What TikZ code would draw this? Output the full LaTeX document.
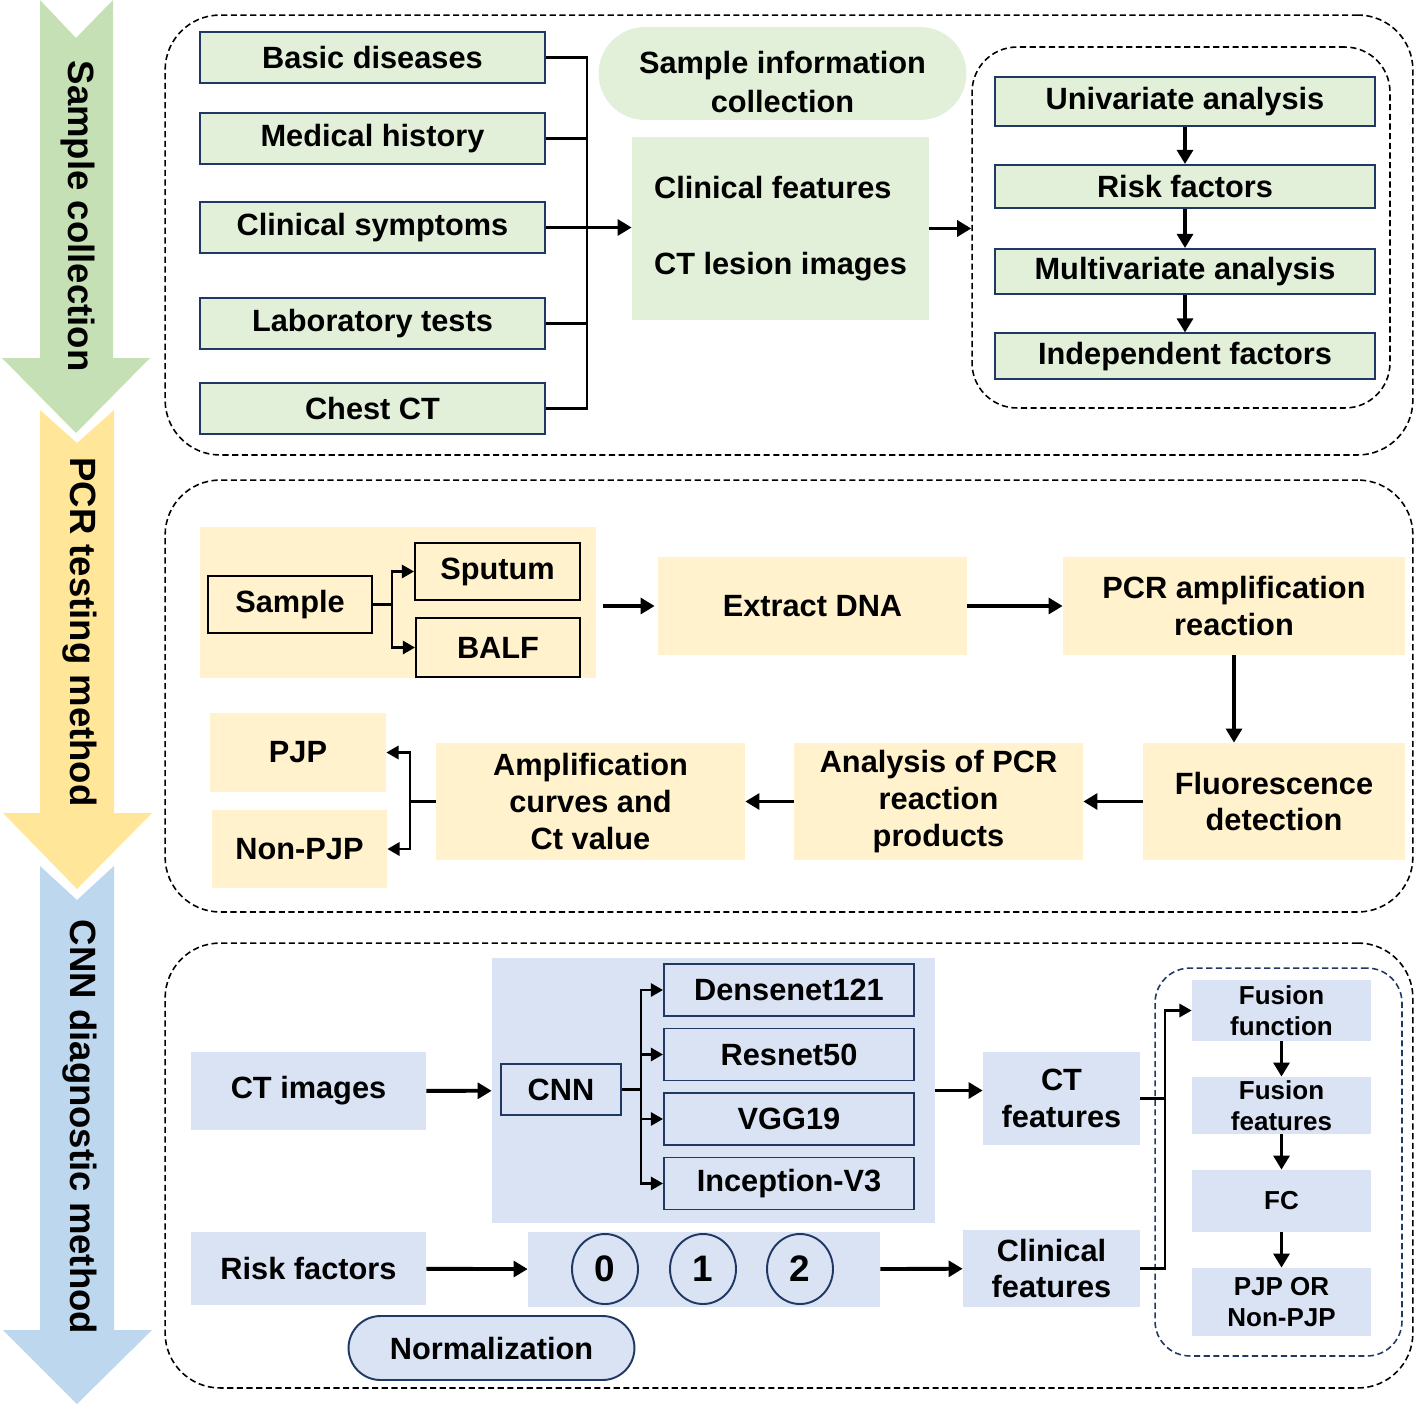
\documentclass[tikz,border=0pt]{standalone}
\usepackage{fontspec}
\setmainfont{Liberation Sans}
\usetikzlibrary{arrows.meta,shapes.misc,shapes.geometric,positioning}

\definecolor{greenarrow}{HTML}{C5E0B4}
\definecolor{greenbox}{HTML}{E2F0D9}
\definecolor{yellowarrow}{HTML}{FFE699}
\definecolor{yellowbox}{HTML}{FFF2CC}
\definecolor{bluearrow}{HTML}{BDD7EE}
\definecolor{bluebox}{HTML}{DAE3F3}
\definecolor{navy}{HTML}{1F3864}

\begin{document}
\begin{tikzpicture}[x=0.02cm, y=-0.02cm,
  every node/.style={font=\bfseries\fontsize{17.5}{21}\selectfont, align=center, inner sep=2pt},
  gbox/.style={rectangle, draw=navy, line width=1.1pt, fill=greenbox, minimum width=6.9cm, minimum height=1.02cm},
  gfill/.style={rectangle, fill=greenbox},
  yfill/.style={rectangle, fill=yellowbox},
  yline/.style={rectangle, draw=black, line width=1.1pt, fill=yellowbox},
  bfill/.style={rectangle, fill=bluebox},
  bline/.style={rectangle, draw=navy, line width=1.1pt, fill=bluebox, minimum width=5cm, minimum height=1.04cm},
  fusbox/.style={rectangle, fill=bluebox, minimum width=3.58cm, font=\bfseries\fontsize{14.8}{17.6}\selectfont},
  digit/.style={ellipse, draw=navy, line width=1.1pt, minimum width=1.32cm, minimum height=1.4cm, inner sep=0pt, font=\bfseries\fontsize{21}{24}\selectfont},
  grp/.style={rectangle, draw=black, line width=0.9pt, dash pattern=on 3.5pt off 2pt, rounded corners=1.1cm},
  sidetext/.style={rotate=-90, font=\bfseries\fontsize{20.8}{24}\selectfont},
  conn/.style={line width=1.6pt},
  tconn/.style={line width=1.6pt, -{Triangle[length=7pt,width=7.5pt]}},
  arr/.style={line width=2.2pt, -{Triangle[length=8pt,width=9pt]}}]
  \useasboundingbox (0,0) rectangle (1416,1406);

  % Side arrows
  \fill[greenarrow] (40,0) -- (76,38) -- (113,0) -- (113,358) -- (150,358) -- (76,433) -- (2,358) -- (40,358) -- cycle;
  \fill[yellowarrow] (40,410) -- (77,443) -- (114,410) -- (114,813) -- (152,813) -- (77,889) -- (3,813) -- (40,813) -- cycle;
  \fill[bluearrow] (40,866) -- (77,900) -- (114,866) -- (114,1330) -- (152,1330) -- (77,1404) -- (3,1330) -- (40,1330) -- cycle;
  \node (sideone) [sidetext] at (78,216) {Sample collection};
  \node (sidetwo) [sidetext] at (80,632) {PCR testing method};
  \node (sidethree) [sidetext] at (80,1127) {CNN diagnostic method};

  % Sample collection blocks
  \node (secone) [grp, minimum width=24.96cm, minimum height=8.8cm] at (789,235) {};
  \node (basic) [gbox] at (372.5,57.5) {Basic diseases};
  \node (medical) [gbox] at (372.5,138.5) {Medical history};
  \node (symptom) [gbox] at (372.5,227.5) {Clinical symptoms};
  \node (labtest) [gbox] at (372.5,323.5) {Laboratory tests};
  \node (chestct) [gbox] at (372.5,408.5) {Chest CT};
  \node (info) [rounded rectangle, fill=greenbox, minimum width=7.5cm, minimum height=1.86cm] at (782.5,73.5) {};
  \node (infotext) [font=\bfseries\fontsize{17.5}{22.5}\selectfont] at (782.5,82) {Sample information\\collection};
  \node (feature) [gfill, minimum width=5.94cm, minimum height=3.66cm, align=left] at (780.5,228.5) {Clinical features\\[22pt]CT lesion images};
  \node (anagrp) [grp, minimum width=8.36cm, minimum height=7.22cm, rounded corners=0.9cm] at (1181,227.5) {};
  \node (univar) [gbox, minimum width=7.6cm, minimum height=0.98cm] at (1185,101.5) {Univariate analysis};
  \node (riskfac) [gbox, minimum width=7.6cm, minimum height=0.86cm, node distance=1.7cm, below of=univar] {Risk factors};
  \node (multivar) [gbox, minimum width=7.6cm, minimum height=0.9cm, node distance=1.7cm, below of=riskfac] {Multivariate analysis};
  \node (indep) [gbox, minimum width=7.6cm, minimum height=0.92cm, node distance=1.7cm, below of=multivar] {Independent factors};

  % PCR testing blocks
  \node (sectwo) [grp, minimum width=24.96cm, minimum height=8.64cm] at (789,696) {};
  \node (samplebg) [yfill, minimum width=7.92cm, minimum height=3.02cm] at (398,602.5) {};
  \node (sample) [yline, minimum width=3.28cm, minimum height=1.14cm] at (290,604.5) {Sample};
  \node (sputum) [yline, minimum width=3.3cm, minimum height=1.14cm] at (497.5,571.5) {Sputum};
  \node (balf) [yline, minimum width=3.28cm, minimum height=1.18cm] at (498,647.5) {BALF};
  \node (extract) [yfill, minimum width=6.18cm, minimum height=1.96cm] at (812.5,606) {Extract DNA};
  \node (pcramp) [yfill, minimum width=6.84cm, minimum height=1.96cm] at (1234,606) {PCR amplification\\reaction};
  \node (fluor) [yfill, minimum width=5.24cm, minimum height=2.34cm] at (1274,801.5) {Fluorescence\\detection};
  \node (analyse) [yfill, minimum width=5.78cm, minimum height=2.34cm] at (938.5,801.5) {Analysis of PCR\\reaction\\products};
  \node (ampcurve) [yfill, minimum width=6.18cm, minimum height=2.34cm] at (590.5,801.5) {Amplification\\curves and\\Ct value};
  \node (pjp) [yfill, minimum width=3.52cm, minimum height=1.58cm] at (298,752.5) {PJP};
  \node (nonpjp) [yfill, minimum width=3.5cm, minimum height=1.56cm] at (299.5,849) {Non-PJP};

  % CNN diagnostic blocks
  \node (secthree) [grp, minimum width=24.96cm, minimum height=8.9cm] at (789,1165.5) {};
  \node (ctimage) [bfill, minimum width=4.7cm, minimum height=1.56cm] at (308.5,1091) {CT images};
  \node (cnnbg) [bfill, minimum width=8.86cm, minimum height=5.3cm] at (713.5,1090.5) {};
  \node (cnn) [bline, minimum width=2.4cm, minimum height=1.02cm] at (561,1089.5) {CNN};
  \node (dense) [bline] at (789,990) {Densenet121};
  \node (resnet) [bline, node distance=1.29cm, below of=dense] {Resnet50};
  \node (vgg) [bline, node distance=1.29cm, below of=resnet] {VGG19};
  \node (incep) [bline, node distance=1.29cm, below of=vgg] {Inception-V3};
  \node (ctfeat) [bfill, minimum width=3.14cm, minimum height=1.86cm] at (1061.5,1098.5) {CT\\features};
  \node (riskin) [bfill, minimum width=4.7cm, minimum height=1.46cm] at (308.5,1268.5) {Risk factors};
  \node (codebg) [bfill, minimum width=7.04cm, minimum height=1.5cm] at (704,1269.5) {};
  \node (zero) [digit] at (605,1269) {0};
  \node (one) [digit] at (703,1269) {1};
  \node (two) [digit] at (800,1269) {2};
  \node (clinfeat) [bfill, minimum width=3.54cm, minimum height=1.54cm] at (1051.5,1268.5) {Clinical\\features};
  \node (normal) [rounded rectangle, draw=navy, line width=1.1pt, fill=bluebox, minimum width=5.86cm, minimum height=1.28cm] at (491.5,1348) {Normalization};
  \node (fusgrp) [grp, draw=navy, minimum width=4.94cm, minimum height=7.76cm, rounded corners=0.7cm] at (1278.5,1162) {};
  \node (fusfun) [fusbox, minimum height=1.22cm] at (1281.5,1010.5) {Fusion\\function};
  \node (fusfeat) [fusbox, minimum height=1.14cm] at (1281.5,1105.5) {Fusion\\features};
  \node (fc) [fusbox, minimum height=1.24cm] at (1281.5,1201) {FC};
  \node (result) [fusbox, minimum height=1.36cm] at (1281.5,1302) {PJP OR\\Non-PJP};

  % Draw arrows
  \coordinate (busone) at (587,227.5);
  \draw[conn] (basic.east) -| (busone);
  \draw[conn] (chestct.east) -| (busone);
  \draw[conn] (medical.east) -- (medical.east -| busone);
  \draw[conn] (labtest.east) -- (labtest.east -| busone);
  \draw[arr] (symptom.east) -- (symptom.east -| feature.west);
  \draw[arr] (feature.east) -- (feature.east -| anagrp.west);
  \draw[arr] (univar) -- (riskfac);
  \draw[arr] (riskfac) -- (multivar);
  \draw[arr] (multivar) -- (indep);

  \coordinate (bustwo) at (392,604.5);
  \draw[conn] (sample.east) -- (bustwo);
  \draw[tconn] (bustwo) |- (sputum.west);
  \draw[tconn] (bustwo) |- (balf.west);
  \draw[arr, shorten <=0.14cm, shorten >=0.06cm] (samplebg.east |- extract.west) -- (extract.west);
  \draw[arr] (extract) -- (pcramp);
  \draw[arr] (pcramp.south) -- (pcramp.south |- fluor.north);
  \draw[arr] (fluor) -- (analyse);
  \draw[arr] (analyse) -- (ampcurve);
  \coordinate (busthree) at (410,801.5);
  \draw[conn] (ampcurve.west) -- (busthree);
  \draw[tconn] (busthree) |- (pjp.east);
  \draw[tconn] (busthree) |- (nonpjp.east);

  \draw[arr] (ctimage) -- (cnnbg);
  \coordinate (busfour) at (641,1089.5);
  \draw[conn] (cnn.east) -- (busfour);
  \draw[tconn] (busfour) |- (dense.west);
  \draw[tconn] (busfour) |- (resnet.west);
  \draw[tconn] (busfour) |- (vgg.west);
  \draw[tconn] (busfour) |- (incep.west);
  \draw[arr] (cnnbg.east) -- (cnnbg.east -| ctfeat.west);
  \draw[arr] (riskin) -- (codebg);
  \draw[arr] (codebg) -- (clinfeat);
  \coordinate (busfive) at (1165,1010.5);
  \draw[conn] (ctfeat.east) -- (ctfeat.east -| busfive);
  \draw[tconn] (clinfeat.east) -| (busfive) -- (fusfun.west);
  \draw[arr] (fusfun) -- (fusfeat);
  \draw[arr] (fusfeat) -- (fc);
  \draw[arr] (fc) -- (result);
\end{tikzpicture}
\end{document}
